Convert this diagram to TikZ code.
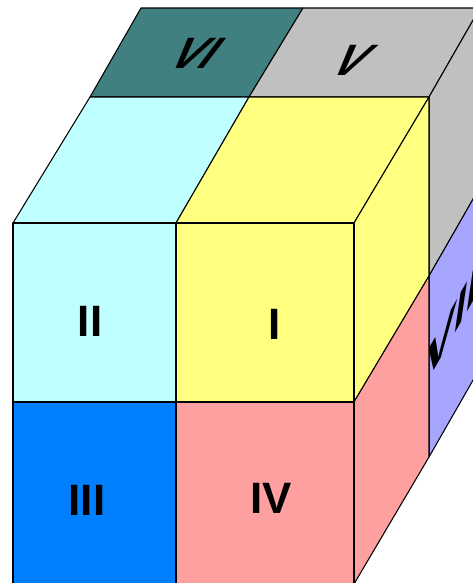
\documentclass[tikz,border=0pt]{standalone}
\usepackage{fontspec}
\setmainfont{Liberation Sans}
\definecolor{faceteal}{HTML}{408080}
\definecolor{facegray}{HTML}{C0C0C0}
\definecolor{facecyan}{HTML}{C0FFFF}
\definecolor{faceyellow}{HTML}{FFFF80}
\definecolor{faceblue}{HTML}{0080FF}
\definecolor{facepink}{HTML}{FFA0A0}
\definecolor{facelilac}{HTML}{A6A6FF}
\tikzset{
  face/.style={draw=black, line width=0.6pt, line join=round},
  fteal/.style={face, fill=faceteal},
  fgray/.style={face, fill=facegray},
  fcyan/.style={face, fill=facecyan},
  fyellow/.style={face, fill=faceyellow},
  fblue/.style={face, fill=faceblue},
  fpink/.style={face, fill=facepink},
  flilac/.style={face, fill=facelilac},
  lbl/.style={inner sep=0pt, font=\fontsize{25}{30}\selectfont\bfseries},
  toplbl/.style={inner sep=0pt, font=\fontsize{25}{30}\selectfont\bfseries\itshape, xslant=0.57},
  sidelbl/.style={inner sep=0pt, font=\fontsize{25}{30}\selectfont\bfseries\itshape, yslant=1.745}
}

\begin{document}
\begin{tikzpicture}[x=0.02cm,y=-0.02cm]
  \useasboundingbox (0,0) rectangle (473,583);
  \clip (0,0) rectangle (473,583);

  % back layer
  \filldraw[fteal] (90,97) -- (249,97) -- (303,8) -- (141,8) -- cycle;
  \filldraw[fgray] (249,97) -- (429,97) -- (480,8) -- (303,8) -- cycle;
  \filldraw[fgray] (429,97) -- (480,8) -- (480,187) -- (429,276) -- cycle;
  \filldraw[flilac] (429,276) -- (480,187) -- (480,368) -- (429,457) -- cycle;

  \node[toplbl] (vi) at (197,53) {VI};
  \node[toplbl] (v) at (353,60) {V};
  \node[sidelbl] (vii) at (452,324) {VII};

  % front layer, top and right
  \filldraw[fcyan] (13,223) -- (176,223) -- (249,97) -- (90,97) -- cycle;
  \filldraw[fyellow] (176,223) -- (354,223) -- (429,97) -- (249,97) -- cycle;
  \filldraw[fyellow] (354,223) -- (429,97) -- (429,276) -- (354,402) -- cycle;
  \filldraw[fpink] (354,402) -- (429,276) -- (429,457) -- (354,584) -- cycle;

  % front face
  \filldraw[fcyan] (13,223) rectangle (176,402);
  \filldraw[fyellow] (176,223) rectangle (354,402);
  \filldraw[fblue] (13,402) rectangle (176,584);
  \filldraw[fpink] (176,402) rectangle (354,584);

  \node[lbl] (ii) at (90,321) {II};
  \node[lbl] (i) at (275,324) {I};
  \node[lbl] (iii) at (87,500) {III};
  \node[lbl] (iv) at (271,498) {IV};
\end{tikzpicture}
\end{document}
